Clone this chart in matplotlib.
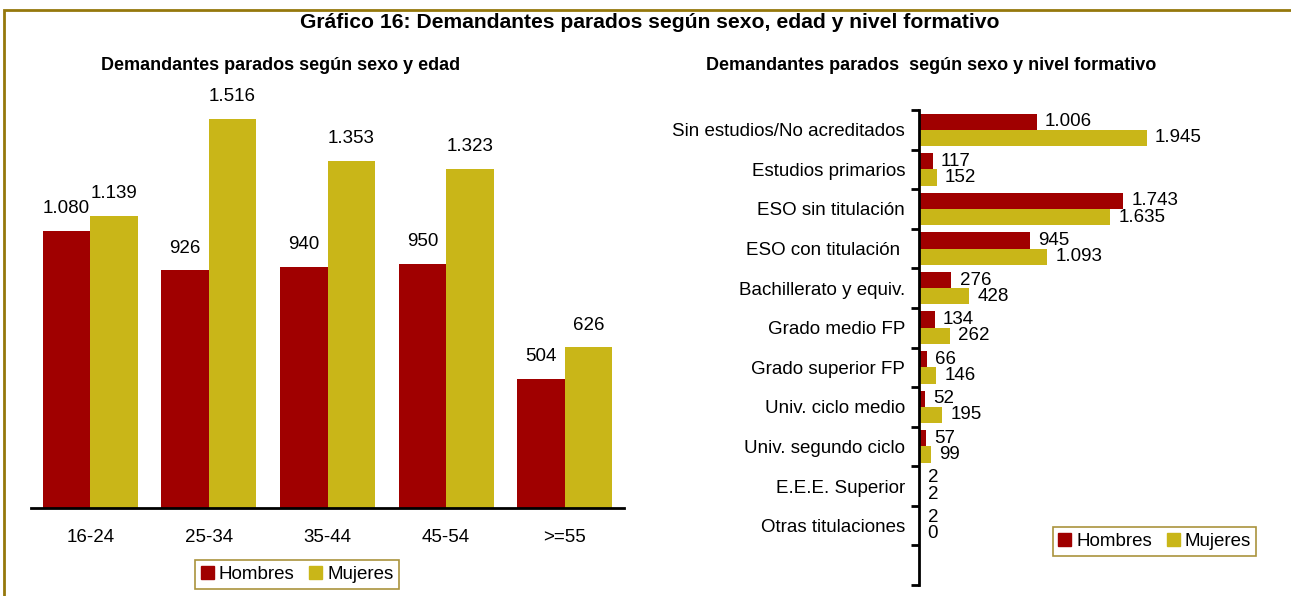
import numpy as np
import matplotlib
matplotlib.use("Agg")
import matplotlib.pyplot as plt
from matplotlib.patches import Rectangle, Patch

plt.rcParams['font.family'] = ['Liberation Sans', 'DejaVu Sans']

# ---------------- DATA ----------------
edades = ['16-24', '25-34', '35-44', '45-54', '>=55']
edad_hombres = [1080, 926, 940, 950, 504]
edad_mujeres = [1139, 1516, 1353, 1323, 626]

niveles = ['Sin estudios/No acreditados', 'Estudios primarios', 'ESO sin titulación',
           'ESO con titulación ', 'Bachillerato y equiv.', 'Grado medio FP',
           'Grado superior FP', 'Univ. ciclo medio', 'Univ. segundo ciclo',
           'E.E.E. Superior', 'Otras titulaciones', '']
nivel_hombres = [1006, 117, 1743, 945, 276, 134, 66, 52, 57, 2, 2, 0]
nivel_mujeres = [1945, 152, 1635, 1093, 428, 262, 146, 195, 99, 2, 0, 0]

RED = '#A00000'
YEL = '#C9B618'
FRAME = '#95780C'
FS = 13.5

def fmt(v):
    return f'{v:,}'.replace(',', '.')

W, H = 1291, 596
fig = plt.figure(figsize=(W / 100, H / 100), dpi=100)

# outer frame (right / bottom edges fall outside the picture)
fig.patches.append(Rectangle((4 / W, -0.1), 1.2, 1.1 - 10 / H,
                             transform=fig.transFigure, fill=False,
                             edgecolor=FRAME, linewidth=2, clip_on=False))

fig.text(650 / W, 1 - 22.5 / H, 'Gráfico 16: Demandantes parados según sexo, edad y nivel formativo',
         ha='center', va='center', fontsize=15.2, fontweight='bold')

############################
# LEFT: por edad
############################
ax1 = fig.add_axes([31 / W, 88 / H, (624 - 31) / W, (508 - 97.5) / H])
x = np.arange(len(edades))
bw = 0.4
ax1.bar(x - bw / 2, edad_hombres, bw, color=RED)
ax1.bar(x + bw / 2, edad_mujeres, bw, color=YEL)
for xi, (h, m) in enumerate(zip(edad_hombres, edad_mujeres)):
    ax1.annotate(fmt(h), (xi - bw / 2, h), xytext=(0, 10), textcoords='offset points',
                 ha='center', va='bottom', fontsize=FS)
    ax1.annotate(fmt(m), (xi + bw / 2, m), xytext=(0, 10), textcoords='offset points',
                 ha='center', va='bottom', fontsize=FS)
ax1.set_xlim(-0.5, 4.5)
ax1.set_ylim(0, 1600)
ax1.set_xticks(x)
ax1.set_xticklabels(edades, fontsize=FS)
ax1.tick_params(axis='x', length=0, pad=15)
ax1.set_yticks([])
for s in ['top', 'right', 'left']:
    ax1.spines[s].set_visible(False)
ax1.spines['bottom'].set_linewidth(2)
fig.text(281 / W, 1 - 66 / H, 'Demandantes parados según sexo y edad',
         ha='center', va='center', fontsize=13, fontweight='bold')

############################
# RIGHT: por nivel formativo
############################
ax2 = fig.add_axes([919 / W, 11 / H, 351 / W, 475 / H])
y = np.arange(len(niveles))
bh = 0.41
ax2.barh(y - bh / 2, nivel_hombres, bh, color=RED)
ax2.barh(y + bh / 2, nivel_mujeres, bh, color=YEL)
for yi, (h, m) in enumerate(zip(nivel_hombres, nivel_mujeres)):
    if niveles[yi] == '':
        continue
    ax2.annotate(fmt(h), (h, yi - bh / 2), xytext=(6, 0), textcoords='offset points',
                 ha='left', va='center', fontsize=FS)
    ax2.annotate(fmt(m), (m, yi + bh / 2), xytext=(6, 0), textcoords='offset points',
                 ha='left', va='center', fontsize=FS)
ax2.set_xlim(0, 3000)
ax2.set_ylim(len(niveles) - 0.5, -0.5)
ax2.set_yticks(y)
ax2.set_yticklabels(niveles, fontsize=FS)
ax2.set_yticks(np.arange(-0.5, len(niveles)), minor=True)
ax2.tick_params(axis='y', which='major', length=0, pad=10)
ax2.tick_params(axis='y', which='minor', length=6, width=2)
ax2.set_xticks([])
for s in ['top', 'right', 'bottom']:
    ax2.spines[s].set_visible(False)
ax2.spines['left'].set_linewidth(2)
fig.text(931 / W, 1 - 66 / H, 'Demandantes parados  según sexo y nivel formativo',
         ha='center', va='center', fontsize=13, fontweight='bold')

############################
# LEGENDS
############################
handles = [Patch(color=RED, label='Hombres'), Patch(color=YEL, label='Mujeres')]
for cx, cy in [(297, 574.5), (1154.5, 541.5)]:
    leg = fig.legend(handles=handles, loc='center', bbox_to_anchor=(cx / W, 1 - cy / H),
                     ncol=2, fontsize=FS, frameon=True, fancybox=False,
                     handlelength=0.7, handleheight=0.7, handletextpad=0.25,
                     columnspacing=0.8, borderpad=0.3, borderaxespad=0)
    leg.get_frame().set_edgecolor(FRAME)
    leg.get_frame().set_linewidth(1.2)

fig.savefig('out.png', dpi=100)
